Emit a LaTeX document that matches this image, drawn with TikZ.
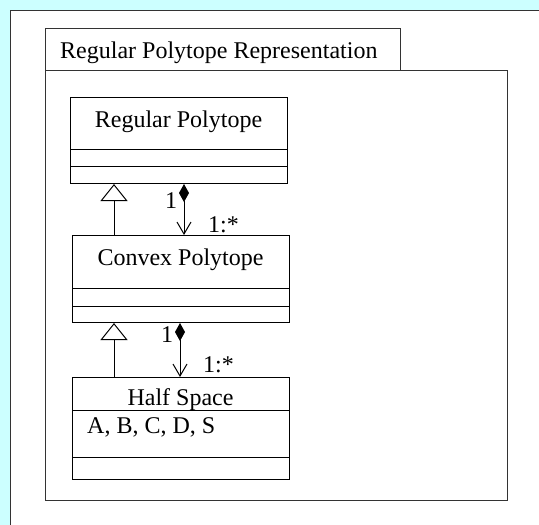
\documentclass[tikz,border=0pt]{standalone}
\usepackage{fontspec}
\setmainfont{Liberation Serif}
\usetikzlibrary{arrows.meta,calc}
\definecolor{bgcyan}{HTML}{CCFFFF}
\definecolor{framegray}{HTML}{333333}
\begin{document}
\begin{tikzpicture}[x=1pt,y=-1pt,
  txt/.style={font=\fontsize{24pt}{28pt}\selectfont, inner sep=0pt},
  cls/.style={draw=black, line width=1pt, rectangle, inner sep=0pt, anchor=north west},
  ln/.style={draw=black, line width=1pt},
  frm/.style={draw=framegray, line width=1.4pt},
  inherit/.style={ln, -{Triangle[open, width=27pt, length=17pt, line width=1pt]}},
  comp/.style={ln, {Diamond[width=10pt, length=18pt]}-{Straight Barb[length=12pt, width=14pt, line width=1pt]}}
]
\useasboundingbox (0,0) rectangle (539,525);
% background
\fill[bgcyan] (0,0) rectangle (539,525);
\fill[white] (10,10) rectangle (539,525);
\draw[framegray, line width=1pt] (10,525) -- (10,10) -- (539,10);
% package frame
\node[frm, rectangle, anchor=north west, minimum width=355pt, minimum height=42pt, inner sep=0pt] (tab) at (45,28) {};
\node[frm, rectangle, anchor=north west, minimum width=462pt, minimum height=430pt, inner sep=0pt] (pkg) at (45,70) {};
\node[txt, anchor=base west] (pkgt) at (60,58) {Regular Polytope Representation};
% Regular Polytope
\node[cls, minimum width=217pt, minimum height=86pt] (rp) at (70,97) {};
\node[txt, anchor=base] (rpt) at (178.5,127) {Regular Polytope};
\draw[ln] ([yshift=-52pt]rp.north west) -- ([yshift=-52pt]rp.north east);
\draw[ln] ([yshift=-69pt]rp.north west) -- ([yshift=-69pt]rp.north east);
% Convex Polytope
\node[cls, minimum width=217pt, minimum height=87pt] (cp) at (72,235) {};
\node[txt, anchor=base] (cpt) at (180.5,265) {Convex Polytope};
\draw[ln] ([yshift=-53pt]cp.north west) -- ([yshift=-53pt]cp.north east);
\draw[ln] ([yshift=-71pt]cp.north west) -- ([yshift=-71pt]cp.north east);
% Half Space
\node[cls, minimum width=217pt, minimum height=102pt] (hs) at (72,377) {};
\node[txt, anchor=base] (hst) at (180.5,405) {Half Space};
\node[txt, anchor=base west] (hsa) at (87,433) {A, B, C, D, S};
\draw[ln] ([yshift=-33pt]hs.north west) -- ([yshift=-33pt]hs.north east);
\draw[ln] ([yshift=-80pt]hs.north west) -- ([yshift=-80pt]hs.north east);
% connectors
\draw[inherit] ([xshift=42pt]cp.north west) -- ([xshift=44pt]rp.south west);
\draw[comp] ([xshift=114pt]rp.south west) -- ([xshift=112pt]cp.north west);
\draw[inherit] ([xshift=42pt]hs.north west) -- ([xshift=42pt]cp.south west);
\draw[comp] ([xshift=108pt]cp.south west) -- ([xshift=108pt]hs.north west);
% multiplicities
\node[txt, anchor=base] (m1) at (171,208) {1};
\node[txt, anchor=base west] (m2) at (208,232) {1:*};
\node[txt, anchor=base] (m3) at (167,342) {1};
\node[txt, anchor=base west] (m4) at (203,372) {1:*};
\end{tikzpicture}
\end{document}
